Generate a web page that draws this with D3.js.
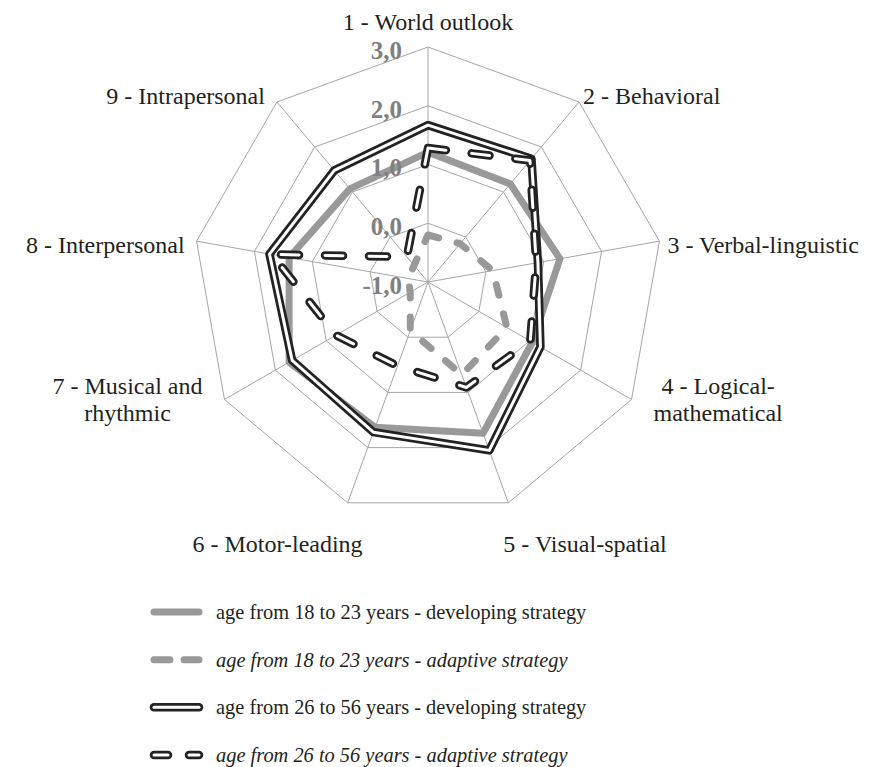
<!DOCTYPE html>
<html>
<head>
<meta charset="utf-8">
<script src="https://cdn.jsdelivr.net/npm/d3@7"></script>
<style>
  html, body { margin: 0; padding: 0; background: #fff; }
  svg { display: block; font-family: "Liberation Serif", "Times New Roman", serif; }
</style>
</head>
<body>
<svg id="chart" width="879" height="767"></svg>
<script>
"use strict";

// axis names (\n = line break as in the original)
const axisNames = [
  "1 - World outlook",
  "2 - Behavioral",
  "3 - Verbal-linguistic",
  "4 - Logical-\nmathematical",
  "5 - Visual-spatial",
  "6 - Motor-leading",
  "7 - Musical and\nrhythmic",
  "8 - Interpersonal",
  "9 - Intrapersonal"
];

const tickValues = [-1, 0, 1, 2, 3];
const tickLabels = ["-1,0", "0,0", "1,0", "2,0", "3,0"];

const seriesNames = [
  "age from 18 to 23 years - developing strategy",
  "age from 18 to 23 years - adaptive strategy",
  "age from 26 to 56 years - developing strategy",
  "age from 26 to 56 years - adaptive strategy"
];

const young_developing = [1.21, 1.18, 1.28, 1.05, 1.74, 1.63, 1.73, 1.40, 1.07];
const young_adaptive   = [-0.20, -0.15, 0.12, 0.55, 0.68, -0.12, -0.65, -0.66, -0.63];
const adult_developing = [1.67, 1.74, 0.90, 1.21, 2.05, 1.72, 1.67, 1.74, 1.48];
const adult_adaptive   = [1.28, 1.70, 0.87, 1.01, 0.91, 0.52, 0.81, 1.70, -0.44];

const seriesValues = [young_developing, young_adaptive, adult_developing, adult_adaptive];

// ---- layout
const cx = 428, cy = 282, R = 235;
const svg = d3.select("#chart");
const n = axisNames.length;

const r = d3.scaleLinear().domain([-1, 3]).range([0, R]);
const angle = d3.scaleLinear().domain([0, n]).range([0, 2 * Math.PI]);

function pt(i, v) {
  const a = angle(i), rr = r(v);
  return [cx + rr * Math.sin(a), cy - rr * Math.cos(a)];
}

const radar = d3.lineRadial()
  .angle((d, i) => angle(i))
  .radius(d => r(d))
  .curve(d3.curveLinearClosed);

const g = svg.append("g").attr("transform", `translate(${cx},${cy})`);

// grid rings
g.selectAll("path.ring")
  .data(tickValues.filter(t => t > -1))
  .enter().append("path")
  .attr("class", "ring")
  .attr("d", t => radar(d3.range(n).map(() => t)))
  .attr("fill", "none")
  .attr("stroke", "#a6a6a6")
  .attr("stroke-width", 1);

// spokes
g.selectAll("line.spoke")
  .data(d3.range(n))
  .enter().append("line")
  .attr("x1", 0).attr("y1", 0)
  .attr("x2", i => pt(i, 3)[0] - cx)
  .attr("y2", i => pt(i, 3)[1] - cy)
  .attr("stroke", "#a6a6a6")
  .attr("stroke-width", 1);

// tick labels along the first axis
svg.selectAll("text.tick")
  .data(tickValues)
  .enter().append("text")
  .attr("x", cx - 26)
  .attr("y", t => cy - r(t) + 3)
  .attr("dy", "0.35em")
  .attr("text-anchor", "end")
  .attr("font-size", 25)
  .attr("font-weight", "bold")
  .attr("fill", "#7f7f7f")
  .text((t, i) => tickLabels[i]);

// series styles
const styles = [
  { stroke: "#999999", width: 7, dash: null, inner: false },
  { stroke: "#999999", width: 7, dash: "11,19", inner: false },
  { stroke: "#222222", width: 8.5, dash: null, inner: true },
  { stroke: "#222222", width: 8.5, dash: "18,26", inner: true }
];
const legendDash = [null, "16,14", null, "14,21"];

seriesValues.forEach((vals, k) => {
  const st = styles[k];
  const d = radar(vals);
  g.append("path")
    .attr("d", d)
    .attr("fill", "none")
    .attr("stroke", st.stroke)
    .attr("stroke-width", st.width)
    .attr("stroke-linejoin", "round")
    .attr("stroke-linecap", "round")
    .attr("stroke-dasharray", st.dash);
  if (st.inner) {
    g.append("path")
      .attr("d", d)
      .attr("fill", "none")
      .attr("stroke", "#fff")
      .attr("stroke-width", 3)
      .attr("stroke-linejoin", "round")
      .attr("stroke-linecap", "round")
      .attr("stroke-dasharray", st.dash);
  }
});

// axis labels
const labels = svg.append("g").attr("font-size", 24).attr("fill", "#231f20");
axisNames.forEach((name, i) => {
  const a = angle(i), s = Math.sin(a), c = Math.cos(a);
  const [vx, vy] = pt(i, 3);
  const lines = name.split("\n");
  const t = labels.append("text");
  lines.forEach((ln, j) => t.append("tspan").text(ln));
  let anchor, x, y;
  if (Math.abs(s) < 0.1) { anchor = "middle"; x = vx; y = vy - 17; }
  else if (c < -0.9) { anchor = s > 0 ? "start" : "end"; x = s > 0 ? vx - 5 : vx + 15; y = vy + 49; }
  else if (c > 0.5) { anchor = s > 0 ? "start" : "end"; x = s > 0 ? vx + 4 : vx - 12; y = vy + 2; }
  else if (c > 0) { anchor = s > 0 ? "start" : "end"; x = s > 0 ? vx + 8 : vx - 12; y = vy + 12; }
  else { anchor = "middle"; x = null; y = vy - 6; }
  t.attr("text-anchor", anchor);
  if (x === null) {
    // centred two-line block, left/right of the vertex
    const w = d3.max(t.selectAll("tspan").nodes(), nd => nd.getComputedTextLength());
    x = s > 0 ? vx + 22 + w / 2 : vx - 22 - w / 2;
  }
  t.selectAll("tspan")
    .attr("x", x)
    .attr("y", (d, j) => y + j * 27);
});

// legend
const legend = svg.append("g");
const legendY = d3.scaleLinear().domain([0, 3]).range([612, 755]);
seriesNames.forEach((name, k) => {
  const st = styles[k];
  const y = legendY(k);
  legend.append("line")
    .attr("x1", 154).attr("x2", 199).attr("y1", y).attr("y2", y)
    .attr("stroke", st.stroke)
    .attr("stroke-width", st.width)
    .attr("stroke-linecap", "round")
    .attr("stroke-dasharray", legendDash[k]);
  if (st.inner) {
    legend.append("line")
      .attr("x1", 154).attr("x2", 199).attr("y1", y).attr("y2", y)
      .attr("stroke", "#fff")
      .attr("stroke-width", 3)
      .attr("stroke-linecap", "round")
      .attr("stroke-dasharray", legendDash[k]);
  }
  legend.append("text")
    .attr("x", 216)
    .attr("y", y + 7)
    .attr("font-size", 20.4)
    .attr("font-style", k % 2 === 1 ? "italic" : "normal")
    .attr("fill", "#231f20")
    .text(name);
});
</script>
</body>
</html>
